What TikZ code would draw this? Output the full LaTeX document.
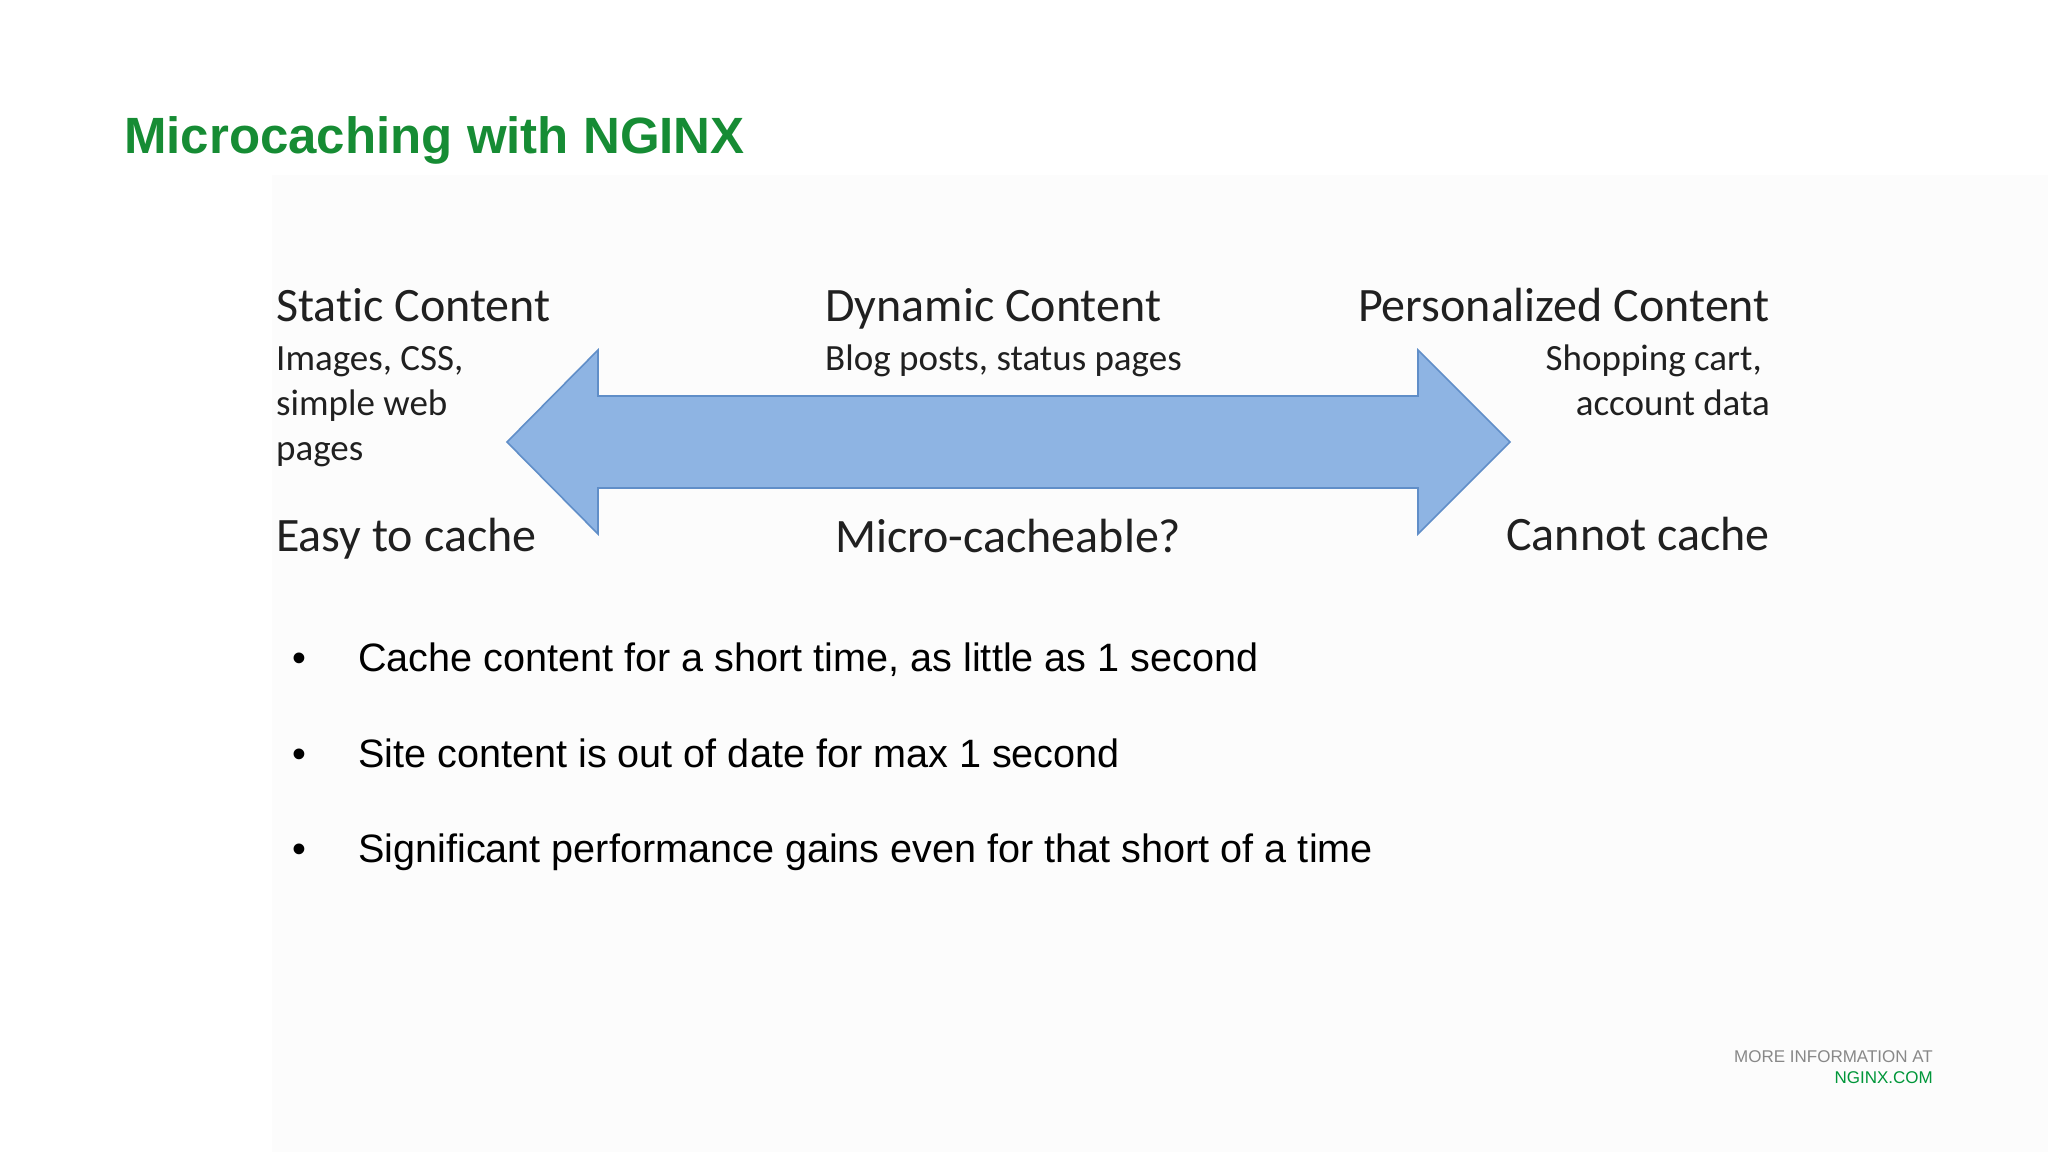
\documentclass[tikz,border=0pt]{standalone}
\usepackage{fontspec}
\setmainfont{Liberation Sans}
\newfontfamily\calibri[Ligatures=NoCommon]{Carlito}
\usepackage{tikz}
\usetikzlibrary{positioning}

\definecolor{nginxgreen}{RGB}{22,140,52}
\definecolor{linkgreen}{RGB}{0,150,57}
\definecolor{inkgray}{RGB}{32,32,32}
\definecolor{footgray}{RGB}{136,136,136}
\definecolor{arrowfill}{RGB}{142,180,227}
\definecolor{arrowedge}{RGB}{96,142,200}

\begin{document}
\begin{tikzpicture}[x=1pt,y=-1pt,
	titletext/.style={anchor=base west,inner sep=0pt,text=nginxgreen,font=\fontsize{51}{60}\selectfont\bfseries},
	headtext/.style={inner sep=0pt,text=inkgray,font=\calibri\fontsize{48}{56}\selectfont},
	subtext/.style={inner sep=0pt,text=inkgray,font=\calibri\fontsize{37}{46}\selectfont},
	bulletdot/.style={anchor=base,inner sep=0pt,font=\fontsize{39.6}{46}\selectfont},
	bullettext/.style={anchor=base west,inner sep=0pt,font=\fontsize{39.6}{46}\selectfont},
	foottext/.style={anchor=base east,inner sep=0pt,font=\fontsize{17}{20}\selectfont},
	doublearrow/.style={fill=arrowfill,draw=arrowedge,line width=1.6pt,line join=miter}]
	
	\useasboundingbox (0, 0) rectangle (2048, 1152);
	\fill[black!1] (272, 175) rectangle (2048, 1152);
	
	\node [titletext] (title) at (124, 153) {Microcaching with NGINX};
	
	% the wide two-headed arrow
	\draw[doublearrow] (507, 442) -- (598, 350) -- (598, 396) -- (1418, 396) -- (1418, 350)
		-- (1510, 442) -- (1418, 534) -- (1418, 488) -- (598, 488) -- (598, 534) -- cycle;
	
	\node [headtext, anchor=base west] (static) at (276, 321) {Static Content};
	\node [subtext, anchor=base west] (static1) at (276, 370) {Images, CSS,};
	\node [subtext, anchor=base west] (static2) at (276, 415) {simple web};
	\node [subtext, anchor=base west] (static3) at (276, 460) {pages};
	\node [headtext, anchor=base west] (easy) at (276, 551) {Easy to cache};
	
	\node [headtext, anchor=base west] (dynamic) at (825, 321) {Dynamic Content};
	\node [subtext, anchor=base west] (dynamic1) at (825, 370) {Blog posts, status pages};
	\node [headtext, anchor=base west] (micro) at (835, 552) {Micro-cacheable?};
	
	\node [headtext, anchor=base east] (personal) at (1770, 321) {Personalized Content};
	\node [subtext, anchor=base east] (personal1) at (1762, 370) {Shopping cart,};
	\node [subtext, anchor=base east] (personal2) at (1770, 415) {account data};
	\node [headtext, anchor=base east] (cannot) at (1770, 550) {Cannot cache};
	
	\node [bulletdot] (b1) at (299, 671) {\textbullet};
	\node [bullettext] (t1) at (358, 671) {Cache content for a short time, as little as 1 second};
	\node [bulletdot] (b2) at (299, 767) {\textbullet};
	\node [bullettext] (t2) at (358, 767) {Site content is out of date for max 1 second};
	\node [bulletdot] (b3) at (299, 862) {\textbullet};
	\node [bullettext] (t3) at (358, 862) {Significant performance gains even for that short of a time};
	
	\node [foottext, text=footgray] (more) at (1933, 1062) {MORE INFORMATION AT};
	\node [foottext, text=linkgreen] (site) at (1933, 1083) {NGINX.COM};
\end{tikzpicture}
\end{document}
